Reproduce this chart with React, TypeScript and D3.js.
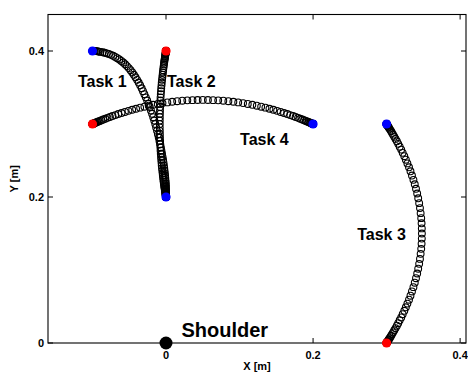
import React from "react";
import * as d3 from "d3";

// Hand trajectories (metres), sampled along each reaching movement
const task1X = [
  -0.1, -0.0994, -0.0983, -0.0968, -0.0952, -0.0933, -0.0913, -0.0892, -0.086, -0.0834,
  -0.0806, -0.0777, -0.0748, -0.0719, -0.069, -0.0662, -0.0635, -0.0608, -0.0582, -0.0556,
  -0.0531, -0.0506, -0.0482, -0.0459, -0.0437, -0.0415, -0.0393, -0.0372, -0.0352, -0.0331,
  -0.0313, -0.0294, -0.0275, -0.0256, -0.0238, -0.0221, -0.0205, -0.0189, -0.0174, -0.016,
  -0.0146,
  -0.0134, -0.0122, -0.011, -0.0099, -0.0089, -0.0079, -0.007, -0.0062, -0.0054, -0.0047,
  -0.004, -0.0034, -0.0029, -0.0024, -0.002, -0.0016, -0.0013, -0.001, -0.0008, -0.0005,
  -0.0004, -0.0003, -0.0002, -0.0002, -0.0001, -0.0001, -0.0001, 0, 0, 0,
  0, 0, 0, 0, 0, 0, 0, 0, 0, 0,
];
const task1Y = [
  0.4, 0.4, 0.4, 0.3999, 0.3998, 0.3996, 0.3992, 0.3988, 0.3983, 0.3976,
  0.3968, 0.3958, 0.3947, 0.3934, 0.3919, 0.3902, 0.3884, 0.3864, 0.3842, 0.3818,
  0.3793, 0.3766, 0.3737, 0.3706, 0.3674, 0.364, 0.3605, 0.3568, 0.353, 0.349,
  0.345, 0.3408, 0.3365, 0.3322, 0.3277, 0.3232, 0.3186, 0.314, 0.3094, 0.3047,
  0.3,
  0.2953, 0.2906, 0.286, 0.2814, 0.2768, 0.2723, 0.2678, 0.2635, 0.2592, 0.255,
  0.251, 0.247, 0.2432, 0.2395, 0.236, 0.2326, 0.2294, 0.2263, 0.2234, 0.2207,
  0.2182, 0.2158, 0.2136, 0.2116, 0.2098, 0.2081, 0.2066, 0.2053, 0.2042, 0.2032,
  0.2024, 0.2017, 0.2012, 0.2008, 0.2004, 0.2002, 0.2001, 0.2, 0.2, 0.2,
];
const task2X = [
  0, 0, 0, 0, 0, -0.0001, -0.0001, -0.0002, -0.0003, -0.0004,
  -0.0005, -0.0007, -0.0009, -0.0011, -0.0013, -0.0016, -0.0019, -0.0022, -0.0025, -0.0028,
  -0.0032, -0.0035, -0.0039, -0.0043, -0.0046, -0.005, -0.0054, -0.0058, -0.0061, -0.0065,
  -0.0068, -0.0071, -0.0074, -0.0076, -0.0078, -0.008, -0.0082, -0.0083, -0.0084, -0.0085,
  -0.0085,
  -0.0085, -0.0084, -0.0083, -0.0082, -0.008, -0.0078, -0.0076, -0.0074, -0.0071, -0.0068,
  -0.0065, -0.0061, -0.0058, -0.0054, -0.005, -0.0046, -0.0043, -0.0039, -0.0035, -0.0032,
  -0.0028, -0.0025, -0.0022, -0.0019, -0.0016, -0.0013, -0.0011, -0.0009, -0.0007, -0.0005,
  -0.0004, -0.0003, -0.0002, -0.0001, -0.0001, 0, 0, 0, 0, 0,
];
const task2Y = [
  0.4, 0.4, 0.4, 0.3999, 0.3998, 0.3996, 0.3992, 0.3988, 0.3983, 0.3976,
  0.3968, 0.3958, 0.3947, 0.3934, 0.3919, 0.3902, 0.3884, 0.3864, 0.3842, 0.3818,
  0.3793, 0.3766, 0.3737, 0.3706, 0.3674, 0.364, 0.3605, 0.3568, 0.353, 0.349,
  0.345, 0.3408, 0.3365, 0.3322, 0.3277, 0.3232, 0.3186, 0.314, 0.3094, 0.3047,
  0.3,
  0.2953, 0.2906, 0.286, 0.2814, 0.2768, 0.2723, 0.2678, 0.2635, 0.2592, 0.255,
  0.251, 0.247, 0.2432, 0.2395, 0.236, 0.2326, 0.2294, 0.2263, 0.2234, 0.2207,
  0.2182, 0.2158, 0.2136, 0.2116, 0.2098, 0.2081, 0.2066, 0.2053, 0.2042, 0.2032,
  0.2024, 0.2017, 0.2012, 0.2008, 0.2004, 0.2002, 0.2001, 0.2, 0.2, 0.2,
];
const task3X = [
  0.3, 0.3, 0.3, 0.3001, 0.3002, 0.3004, 0.3007, 0.3011, 0.3016, 0.3023,
  0.303, 0.3039, 0.305, 0.3062, 0.3075, 0.3089, 0.3105, 0.3122, 0.314, 0.3158,
  0.3178, 0.3199, 0.3219, 0.3241, 0.3262, 0.3283, 0.3305, 0.3325, 0.3345, 0.3365,
  0.3383, 0.34, 0.3416, 0.343, 0.3443, 0.3454, 0.3463, 0.3471, 0.3476, 0.3479,
  0.348,
  0.3479, 0.3476, 0.3471, 0.3463, 0.3454, 0.3443, 0.343, 0.3416, 0.34, 0.3383,
  0.3365, 0.3345, 0.3325, 0.3305, 0.3283, 0.3262, 0.3241, 0.3219, 0.3199, 0.3178,
  0.3158, 0.314, 0.3122, 0.3105, 0.3089, 0.3075, 0.3062, 0.305, 0.3039, 0.303,
  0.3023, 0.3016, 0.3011, 0.3007, 0.3004, 0.3002, 0.3001, 0.3, 0.3, 0.3,
];
const task3Y = [
  0.3, 0.3, 0.3, 0.2999, 0.2997, 0.2993, 0.2989, 0.2982, 0.2974, 0.2964,
  0.2952, 0.2937, 0.292, 0.2901, 0.2878, 0.2854, 0.2826, 0.2796, 0.2763, 0.2728,
  0.2689, 0.2649, 0.2605, 0.2559, 0.2511, 0.246, 0.2407, 0.2352, 0.2294, 0.2235,
  0.2174, 0.2112, 0.2048, 0.1982, 0.1916, 0.1848, 0.1779, 0.171, 0.164, 0.157,
  0.15,
  0.143, 0.136, 0.129, 0.1221, 0.1152, 0.1084, 0.1018, 0.0952, 0.0888, 0.0826,
  0.0765, 0.0706, 0.0648, 0.0593, 0.054, 0.0489, 0.0441, 0.0395, 0.0351, 0.0311,
  0.0272, 0.0237, 0.0204, 0.0174, 0.0146, 0.0122, 0.0099, 0.008, 0.0063, 0.0048,
  0.0036, 0.0026, 0.0018, 0.0011, 0.0007, 0.0003, 0.0001, 0, 0, 0,
];
const task4X = [
  -0.1, -0.1, -0.1, -0.0999, -0.0997, -0.0993, -0.0989, -0.0982, -0.0974, -0.0964,
  -0.0952, -0.0937, -0.092, -0.0901, -0.0878, -0.0854, -0.0826, -0.0796, -0.0763, -0.0728,
  -0.0689, -0.0649, -0.0605, -0.0559, -0.0511, -0.046, -0.0407, -0.0352, -0.0294, -0.0235,
  -0.0174, -0.0112, -0.0048, 0.0018, 0.0084, 0.0152, 0.0221, 0.029, 0.036, 0.043,
  0.05,
  0.057, 0.064, 0.071, 0.0779, 0.0848, 0.0916, 0.0982, 0.1048, 0.1112, 0.1174,
  0.1235, 0.1294, 0.1352, 0.1407, 0.146, 0.1511, 0.1559, 0.1605, 0.1649, 0.1689,
  0.1728, 0.1763, 0.1796, 0.1826, 0.1854, 0.1878, 0.1901, 0.192, 0.1937, 0.1952,
  0.1964, 0.1974, 0.1982, 0.1989, 0.1993, 0.1997, 0.1999, 0.2, 0.2, 0.2,
];
const task4Y = [
  0.3, 0.3, 0.3, 0.3001, 0.3002, 0.3003, 0.3005, 0.3008, 0.3011, 0.3016,
  0.3021, 0.3027, 0.3034, 0.3042, 0.3051, 0.3061, 0.3072, 0.3084, 0.3096, 0.3109,
  0.3122, 0.3137, 0.3151, 0.3165, 0.318, 0.3195, 0.3209, 0.3224, 0.3237, 0.3251,
  0.3263, 0.3275, 0.3286, 0.3296, 0.3305, 0.3312, 0.3319, 0.3324, 0.3327, 0.3329,
  0.333,
  0.3329, 0.3327, 0.3324, 0.3319, 0.3312, 0.3305, 0.3296, 0.3286, 0.3275, 0.3263,
  0.3251, 0.3237, 0.3224, 0.3209, 0.3195, 0.318, 0.3165, 0.3151, 0.3137, 0.3122,
  0.3109, 0.3096, 0.3084, 0.3072, 0.3061, 0.3051, 0.3042, 0.3034, 0.3027, 0.3021,
  0.3016, 0.3011, 0.3008, 0.3005, 0.3003, 0.3002, 0.3001, 0.3, 0.3, 0.3,
];

// Movement end points and which target set they belong to
const endpointX = [-0.1, 0, 0, -0.1, 0.2, 0.3, 0.3];
const endpointY = [0.4, 0.4, 0.2, 0.3, 0.3, 0.3, 0];
const endpointSet = [1, 2, 1, 2, 1, 1, 2];

const shoulderX = [0];
const shoulderY = [0];

const taskNames = ["Task 1", "Task 2", "Task 3", "Task 4"];
const xTickValues = [0, 0.2, 0.4];
const yTickValues = [0, 0.2, 0.4];
const xTickLabels = ["0", "0.2", "0.4"];
const yTickLabels = ["0", "0.2", "0.4"];

const W = 468;
const H = 374;
const FONT = "'Liberation Sans', Arial, Helvetica, sans-serif";

export default function App() {
  const x = d3.scaleLinear().domain([-0.1605, 0.408]).range([48, 466]);
  const y = d3.scaleLinear().domain([0, 0.45]).range([343, 14.5]);
  const [x0, x1] = x.range();
  const [y0, y1] = y.range();
  const setColor = d3.scaleOrdinal<number, string>().domain([1, 2]).range(["#0000ff", "#ff0000"]);

  const tracks = [
    { xs: task1X, ys: task1Y },
    { xs: task2X, ys: task2Y },
    { xs: task3X, ys: task3Y },
    { xs: task4X, ys: task4Y },
  ];

  // label anchors (data units, left edge / baseline)
  const labelAt: [number, number][] = [
    [-0.1197, 0.3507],
    [0.0014, 0.3507],
    [0.26, 0.1411],
    [0.1007, 0.2712],
  ];

  const tick = 5;

  return (
    <svg
      width={W}
      height={H}
      style={{ position: "absolute", left: 0, top: 0, display: "block" }}
      fontFamily={FONT}
    >
      <rect x={0} y={0} width={W} height={H} fill="#fff" />

      {/* axes box */}
      <rect x={x0} y={y1} width={x1 - x0} height={y0 - y1} fill="none" stroke="#000" strokeWidth={1.1} />

      {/* ticks on all four sides, pointing inward */}
      {xTickValues.map((v, i) => (
        <g key={"xt" + i}>
          <line x1={x(v)} x2={x(v)} y1={y0} y2={y0 - tick} stroke="#000" strokeWidth={1} />
          <line x1={x(v)} x2={x(v)} y1={y1} y2={y1 + tick} stroke="#000" strokeWidth={1} />
          <text x={x(v)} y={y0 + 16} textAnchor="middle" fontSize={11} fontWeight="bold">
            {xTickLabels[i]}
          </text>
        </g>
      ))}
      {yTickValues.map((v, i) => (
        <g key={"yt" + i}>
          <line x1={x0} x2={x0 + tick} y1={y(v)} y2={y(v)} stroke="#000" strokeWidth={1} />
          <line x1={x1} x2={x1 - tick} y1={y(v)} y2={y(v)} stroke="#000" strokeWidth={1} />
          <text x={44} y={y(v)} dy="0.36em" textAnchor="end" fontSize={11} fontWeight="bold">
            {yTickLabels[i]}
          </text>
        </g>
      ))}

      <text x={(x0 + x1) / 2} y={370} textAnchor="middle" fontSize={11} fontWeight="bold">
        X [m]
      </text>
      <text
        transform={`translate(17.5,${(y0 + y1) / 2}) rotate(-90)`}
        textAnchor="middle"
        fontSize={11}
        fontWeight="bold"
      >
        Y [m]
      </text>

      {/* trajectories */}
      {tracks.map((t, ti) => (
        <g key={"tr" + ti} fill="none" stroke="#000" strokeWidth={1.1}>
          {t.xs.map((vx, i) => (
            <circle key={i} cx={x(vx)} cy={y(t.ys[i])} r={3.4} />
          ))}
        </g>
      ))}

      {/* end points */}
      {endpointX.map((vx, i) => (
        <circle key={"ep" + i} cx={x(vx)} cy={y(endpointY[i])} r={4.6} fill={setColor(endpointSet[i])} />
      ))}

      {/* shoulder */}
      {shoulderX.map((vx, i) => (
        <circle key={"sh" + i} cx={x(vx)} cy={y(shoulderY[i])} r={6.5} fill="#000" />
      ))}

      {taskNames.map((name, i) => (
        <text
          key={name}
          x={x(labelAt[i][0])}
          y={y(labelAt[i][1])}
          fontSize={16}
          fontWeight="bold"
          fill="#000"
        >
          {name}
        </text>
      ))}
      <text x={x(0.021)} y={y(0.0082)} fontSize={20} fontWeight="bold" fill="#000">
        Shoulder
      </text>
    </svg>
  );
}
